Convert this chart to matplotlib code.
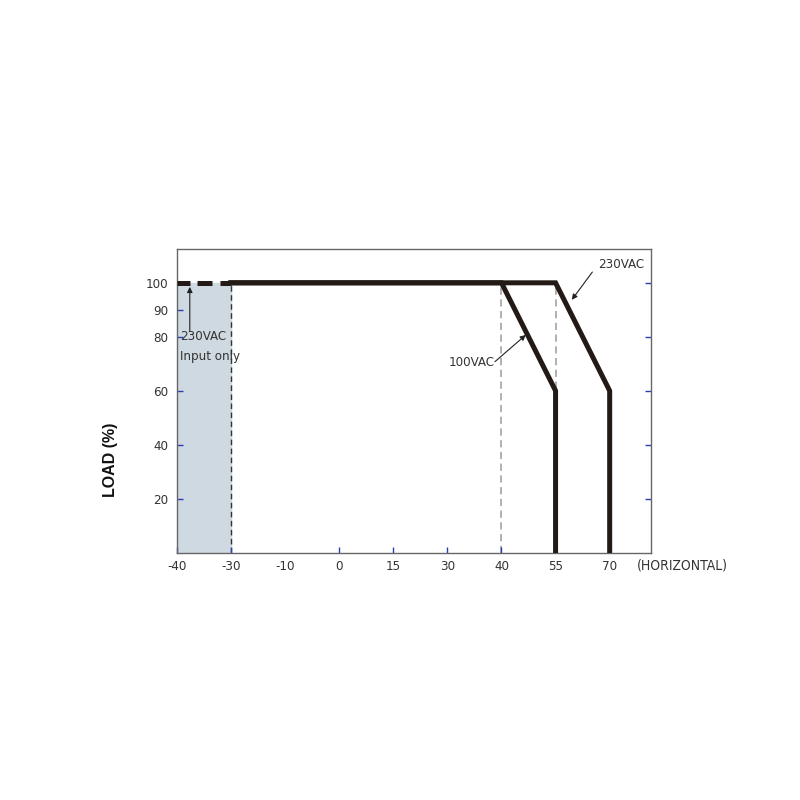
import numpy as np
import matplotlib
matplotlib.use("Agg")
import matplotlib.pyplot as plt

plt.rcParams['font.family'] = ['DejaVu Sans']
plt.rcParams['font.stretch'] = 'condensed'

# --- data ---
temp_labels = [-40, -30, -10, 0, 15, 30, 40, 55, 70]
y_ticks = [20, 40, 60, 80, 90, 100]

vac100_temp = [-30, 40, 55, 55]
vac100_load = [100, 100, 60, 0]
vac230_temp = [-30, 55, 70, 70]
vac230_load = [100, 100, 60, 0]
dashed_temp = [-40, -30]          # 230VAC input only part
dashed_load = [100, 100]
guide_temps = [40, 55]            # grey dashed guides


def pos(t):
    # the x axis is not linear: ticks are evenly spaced
    return np.interp(t, temp_labels, np.arange(len(temp_labels)))


fig = plt.figure(figsize=(8, 8), dpi=100)
ax = fig.add_axes([0.221, 0.309, 0.5925, 0.38])
ax.set_xlim(0, 8.76)
ax.set_ylim(0, 112.6)

line_col = '#231a15'
tick_col = '#2a3fb5'
txt_col = '#333333'

# shaded input-only region
ax.axvspan(pos(-40), pos(-30), ymax=100 / 112.6, color='#cfd9e1', zorder=0)
ax.plot([pos(-30)] * 2, [0, 100], color='#333333', lw=1, ls=(0, (4, 2.5)), zorder=1)
for g in guide_temps:
    ax.plot([pos(g)] * 2, [0, 100], color='#aaaaaa', lw=1.3, ls=(0, (4, 2.5)), zorder=1)

lw = 3.6
l, = ax.plot(pos(dashed_temp), dashed_load, color=line_col, lw=lw, zorder=3)
l.set_dashes([2.6, 1.4, 3.0, 1.6])
l.set_dash_capstyle('butt')
ax.plot(pos(vac230_temp), vac230_load, color=line_col, lw=lw, solid_joinstyle='miter', zorder=3)
ax.plot(pos(vac100_temp), vac100_load, color=line_col, lw=lw, solid_joinstyle='miter', zorder=3)

# annotations
arrow = dict(arrowstyle='-|>', color='#222222', lw=0.8, mutation_scale=8, shrinkA=0, shrinkB=0)
ax.text(7.78, 106.7, '230VAC', fontsize=9.5, color=txt_col, ha='left', va='center')
ax.annotate('', xy=(7.30, 93.7), xytext=(7.68, 104.0), arrowprops=arrow)
ax.text(5.88, 70.4, '100VAC', fontsize=9.5, color=txt_col, ha='right', va='center')
ax.annotate('', xy=(6.45, 80.7), xytext=(5.88, 70.8), arrowprops=arrow)
ax.annotate('', xy=(0.24, 98.5), xytext=(0.24, 82.0), arrowprops=arrow)
ax.text(0.06, 80, '230VAC', fontsize=9.5, color=txt_col, ha='left', va='center')
ax.text(0.06, 72.6, 'Input only', fontsize=9.5, color=txt_col, ha='left', va='center')

# ticks
ax.set_xticks(np.arange(len(temp_labels)))
ax.set_xticklabels([str(t) for t in temp_labels])
ax.set_yticks(y_ticks)
ax.set_yticklabels([str(v) for v in y_ticks])
ax.tick_params(axis='both', direction='in', length=4, width=1, color=tick_col,
               labelsize=9.5, labelcolor=txt_col)
ax.tick_params(axis='y', right=True, pad=6)
ax.tick_params(axis='x', pad=5)
ax.xaxis.get_major_ticks()[2].tick1line.set_visible(False)
ax.yaxis.get_major_ticks()[4].tick2line.set_visible(False)

for s in ax.spines.values():
    s.set_color('#666666')
    s.set_linewidth(1)

ax.text(8.50, -4.6, '(HORIZONTAL)', fontsize=10, color=txt_col, ha='left', va='center')
fig.text(0.1375, 0.425, 'LOAD (%)', rotation=90, fontsize=11.5, fontweight='bold',
         family='Liberation Sans', stretch='normal', ha='center', va='center', color='#111111')

fig.savefig('out.png', dpi=100, facecolor='white')
